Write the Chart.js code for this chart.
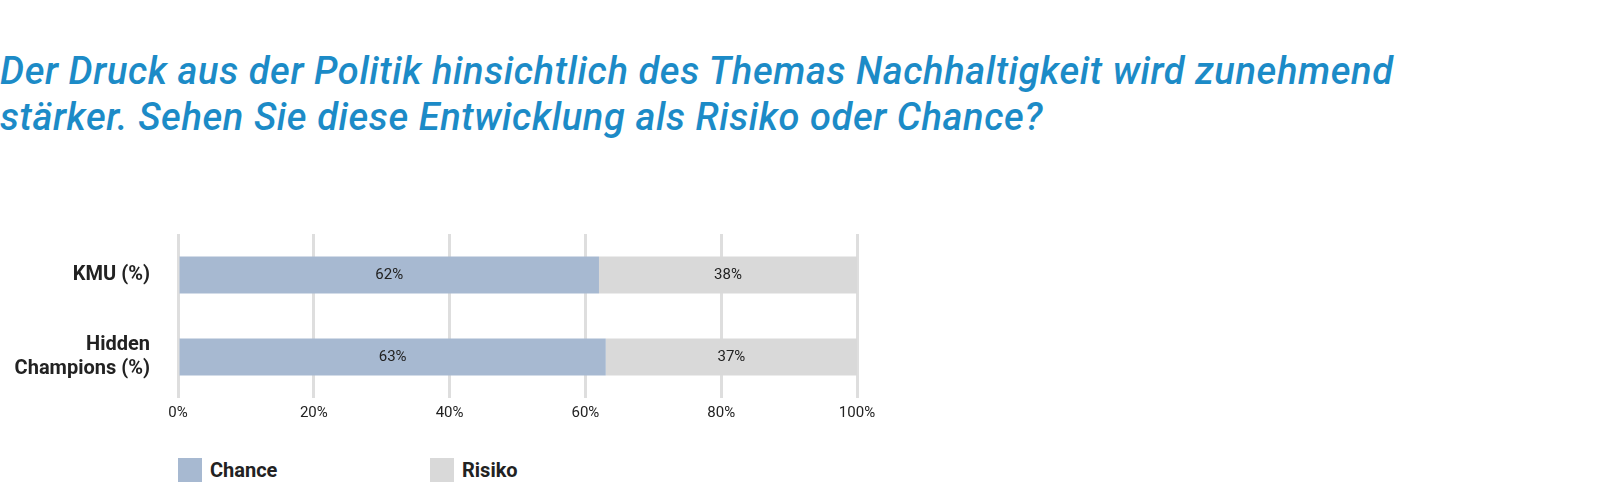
<!DOCTYPE html>
<html>
<head>
<meta charset="utf-8">
<script src="https://cdn.jsdelivr.net/npm/chart.js"></script>
<style>
  body { margin:0; width:1600px; height:494px; background:#fff; font-family:Roboto, sans-serif; position:relative; overflow:hidden; }
  h1 { position:absolute; left:0; top:48px; margin:0; font-size:38px; line-height:46px; font-style:italic; font-weight:500; color:#1c8bc7; letter-spacing:0.6px; white-space:nowrap; }
  #c { position:absolute; left:0; top:190px; }
  .leg { position:absolute; top:458px; font-size:20px; font-weight:700; color:#222; display:flex; align-items:center; }
  .leg span { display:inline-block; width:24px; height:24px; margin-right:8px; }
</style>
</head>
<body>
<h1>Der Druck aus der Politik hinsichtlich des Themas Nachhaltigkeit wird zunehmend<br>stärker. Sehen Sie diese Entwicklung als Risiko oder Chance?</h1>
<canvas id="c" width="900" height="240" style="width:900px;height:240px"></canvas>
<div class="leg" style="left:178px"><span style="background:#a7b9d1"></span>Chance</div>
<div class="leg" style="left:430px"><span style="background:#d9d9d9"></span>Risiko</div>
<script>
const categories = [['KMU (%)'], ['Hidden', 'Champions (%)']];
const chance = [62, 63];
const risiko = [38, 37];
const ticks = ['0%', '20%', '40%', '60%', '80%', '100%'];

const labelPlugin = {
  id: 'inlabels',
  afterDatasetsDraw(chart) {
    const ctx = chart.ctx;
    ctx.save();
    ctx.font = '15px Roboto';
    ctx.fillStyle = '#222';
    ctx.textAlign = 'center';
    ctx.textBaseline = 'middle';
    chart.data.datasets.forEach((ds, i) => {
      chart.getDatasetMeta(i).data.forEach((bar, j) => {
        const p = bar.getProps(['x', 'y', 'base'], true);
        ctx.fillText(ds.data[j] + '%', (p.x + p.base) / 2, p.y);
      });
    });
    ctx.restore();
  }
};

new Chart(document.getElementById('c'), {
  type: 'bar',
  data: {
    labels: categories,
    datasets: [
      { label: 'Chance', data: chance, backgroundColor: '#a7b9d1', barPercentage: 0.45, categoryPercentage: 1 },
      { label: 'Risiko', data: risiko, backgroundColor: '#d9d9d9', barPercentage: 0.45, categoryPercentage: 1 }
    ]
  },
  options: {
    indexAxis: 'y',
    responsive: false,
    devicePixelRatio: 1,
    animation: false,
    layout: { padding: { top: 8, right: 43, left: 0, bottom: 0 } },
    plugins: { legend: { display: false }, tooltip: { enabled: false } },
    scales: {
      x: {
        stacked: true, min: 0, max: 100,
        ticks: { stepSize: 20, callback: (v, i) => ticks[i], color: '#222', font: { family: 'Roboto', size: 15 }, padding: 6 },
        grid: { color: '#dedede', lineWidth: 3, drawTicks: false },
        border: { display: false }
      },
      y: {
        stacked: true,
        afterFit(s) { s.width = 178; },
        ticks: { color: '#222', font: { family: 'Roboto', size: 20, weight: 'bold' }, padding: 20 },
        grid: { display: false },
        border: { display: false }
      }
    }
  },
  plugins: [labelPlugin]
});
</script>
</body>
</html>
